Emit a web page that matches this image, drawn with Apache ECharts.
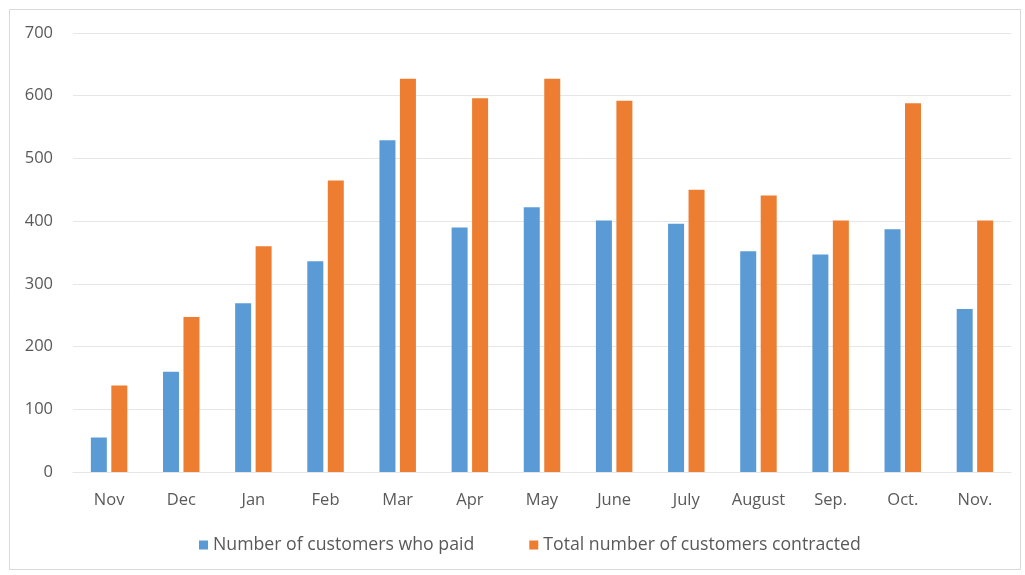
<!DOCTYPE html>
<html>
<head>
<meta charset="utf-8">
<script src="https://cdn.jsdelivr.net/npm/echarts@6/dist/echarts.min.js"></script>
<style>
html,body{margin:0;padding:0;background:#fff;}
#c{width:1025px;height:575px;}
</style>
</head>
<body>
<div id="c"></div>
<script>
var categories = ['Nov','Dec','Jan','Feb','Mar','Apr','May','June','July','August','Sep.','Oct.','Nov.'];
var paid = [55,160,269,336,529,390,422,401,396,352,347,387,260];
var contracted = [138,247,360,465,627,596,627,592,450,441,401,588,401];
var seriesNames = ['Number of customers who paid','Total number of customers contracted'];
var yTicks = [0,100,200,300,400,500,600,700];

var chart = echarts.init(document.getElementById('c'));
var fontFamily = '"Open Sans", "Noto Sans", sans-serif';
chart.setOption({
  animation: false,
  backgroundColor: '#ffffff',
  color: ['#5B9BD5','#ED7D31'],
  graphic: [{
    type: 'rect', left: 7, top: 7,
    shape: {width: 1011, height: 560},
    style: {fill: 'none', stroke: '#d9d9d9', lineWidth: 1}
  }],
  grid: {left: 73, right: 14, top: 33, bottom: 103},
  legend: {
    bottom: 16, left: 194,
    itemWidth: 9, itemHeight: 9, itemGap: 55,
    icon: 'rect',
    textStyle: {color: '#595959', fontSize: 17.7, fontFamily: fontFamily},
    data: seriesNames
  },
  xAxis: {
    type: 'category',
    data: categories,
    axisLine: {show: true, lineStyle: {color: '#e6e6e6'}},
    axisTick: {show: false},
    axisLabel: {color: '#595959', fontSize: 16.5, margin: 20, fontFamily: fontFamily}
  },
  yAxis: {
    type: 'value',
    min: yTicks[0], max: yTicks[yTicks.length-1], interval: 100,
    axisLine: {show: false},
    axisTick: {show: false},
    splitLine: {lineStyle: {color: '#e6e6e6'}},
    axisLabel: {color: '#595959', fontSize: 16.5, margin: 20, fontFamily: fontFamily}
  },
  series: [
    {name: seriesNames[0], type: 'bar', data: paid, barWidth: 16, barGap: '28%'},
    {name: seriesNames[1], type: 'bar', data: contracted, barWidth: 16, barGap: '28%'}
  ]
});
</script>
</body>
</html>
